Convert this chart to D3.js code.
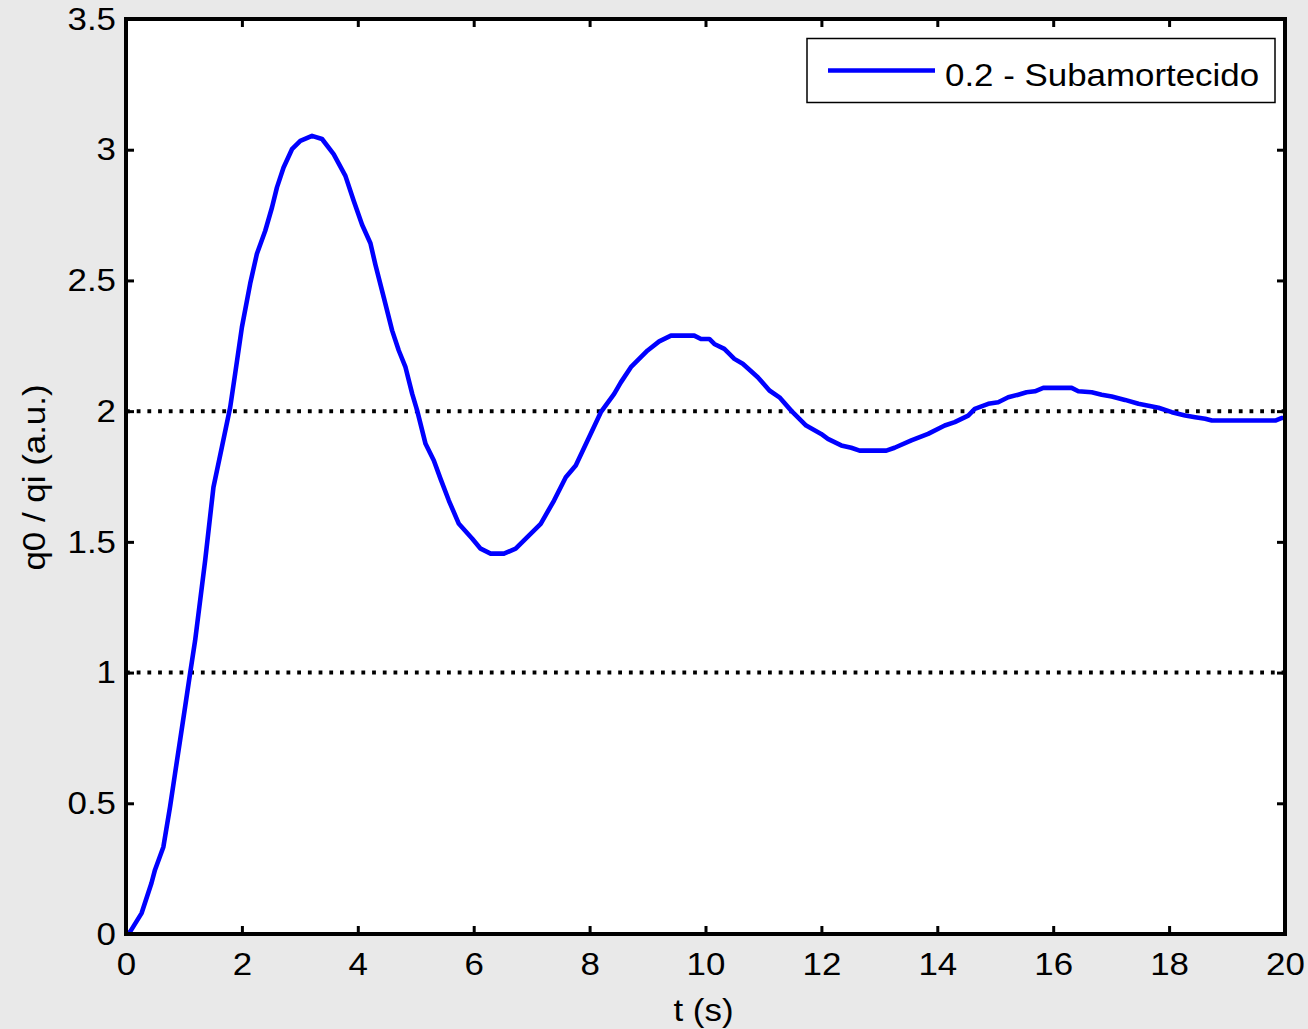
<!DOCTYPE html>
<html><head><meta charset="utf-8">
<script src="https://cdn.jsdelivr.net/npm/d3@7"></script>
<style>
html,body{margin:0;padding:0;background:#e9e9e9;}
svg{display:block;font-family:"Liberation Sans",Arial,sans-serif;}
</style></head>
<body>
<svg id="c" width="1308" height="1029"></svg>
<script>
const tValues = [0,0.07,0.27,0.44,0.5,0.645,0.76,0.847,0.933,1.02,1.106,1.193,1.366,1.509,1.654,1.798,1.884,2.0,2.143,2.259,2.403,2.519,2.605,2.719,2.864,3.008,3.21,3.383,3.583,3.786,3.929,4.074,4.218,4.304,4.448,4.593,4.707,4.823,4.939,5.025,5.169,5.312,5.428,5.571,5.744,5.976,6.119,6.292,6.522,6.724,6.868,7.156,7.386,7.589,7.761,7.991,8.194,8.424,8.539,8.712,9.001,9.201,9.404,9.806,9.922,10.066,10.152,10.325,10.498,10.643,10.902,11.103,11.276,11.478,11.737,11.996,12.112,12.342,12.515,12.659,13.12,13.263,13.552,13.841,14.128,14.301,14.533,14.647,14.879,15.051,15.224,15.397,15.54,15.684,15.829,16.318,16.434,16.664,16.837,17.01,17.239,17.471,17.644,17.817,18.047,18.277,18.45,18.623,18.738,19.833,19.948,20.0];
const qValues = [0,0.008,0.08,0.195,0.245,0.333,0.486,0.615,0.741,0.869,0.997,1.123,1.429,1.709,1.862,2.015,2.144,2.321,2.488,2.602,2.69,2.779,2.856,2.932,3.002,3.034,3.053,3.041,2.983,2.9,2.805,2.713,2.642,2.56,2.435,2.308,2.232,2.168,2.066,2.002,1.875,1.811,1.741,1.658,1.569,1.512,1.474,1.455,1.455,1.474,1.506,1.569,1.658,1.747,1.792,1.9,1.996,2.066,2.11,2.168,2.232,2.267,2.289,2.289,2.276,2.276,2.257,2.238,2.2,2.181,2.13,2.079,2.053,2.002,1.945,1.913,1.894,1.869,1.86,1.849,1.849,1.86,1.888,1.913,1.945,1.958,1.983,2.009,2.028,2.034,2.053,2.063,2.072,2.076,2.089,2.089,2.076,2.072,2.063,2.056,2.043,2.028,2.021,2.013,1.996,1.983,1.977,1.971,1.964,1.964,1.974,1.974];
const refLevels = [1, 2];
const xTicks = [0,2,4,6,8,10,12,14,16,18,20];
const yTicks = [0,0.5,1,1.5,2,2.5,3,3.5];
const seriesName = "0.2 - Subamortecido";
const xLabel = "t (s)";
const yLabel = "q0 / qi (a.u.)";

const L = 126, R = 1285, T = 19, B = 934;
const svg = d3.select("#c");
const x = d3.scaleLinear().domain([0,20]).range([L,R]);
const y = d3.scaleLinear().domain([0,3.5]).range([B,T]);
const fs = "32px";
const STRETCH = 1.09;
function stretch(sel){
  sel.each(function(){
    const len = this.getComputedTextLength();
    if (len > 0) d3.select(this).attr("textLength", len*STRETCH).attr("lengthAdjust","spacingAndGlyphs");
  });
}

svg.append("rect").attr("x",L).attr("y",T).attr("width",R-L).attr("height",B-T).attr("fill","#fff");
svg.append("clipPath").attr("id","clip").append("rect").attr("x",L).attr("y",T-2).attr("width",R-L).attr("height",B-T+4);

// reference dotted lines
svg.selectAll(".ref").data(refLevels).join("line")
  .attr("x1",x(0)).attr("x2",x(20)).attr("y1",d=>y(d)).attr("y2",d=>y(d))
  .attr("stroke","#000").attr("stroke-width",4).attr("stroke-dasharray","3.8 6.9");

// curve
const pts = tValues.map((t,i)=>[t,qValues[i]]);
svg.append("path").datum(pts).attr("clip-path","url(#clip)")
  .attr("d",d3.line().x(d=>x(d[0])).y(d=>y(d[1])))
  .attr("fill","none").attr("stroke","#0000ff").attr("stroke-width",4.6).attr("stroke-linejoin","round");

// axes
const gl = svg.append("g").attr("transform",`translate(${L},0)`)
  .call(d3.axisLeft(y).tickValues(yTicks).tickSize(-8).tickPadding(10).tickFormat(d3.format("")));
const gb = svg.append("g").attr("transform",`translate(0,${B})`)
  .call(d3.axisBottom(x).tickValues(xTicks).tickSize(-8).tickPadding(18).tickFormat(d3.format("")));
const gr = svg.append("g").attr("transform",`translate(${R},0)`)
  .call(d3.axisRight(y).tickValues(yTicks).tickSize(-8).tickFormat(""));
const gt = svg.append("g").attr("transform",`translate(0,${T})`)
  .call(d3.axisTop(x).tickValues(xTicks).tickSize(-8).tickFormat(""));
[gl,gb,gr,gt].forEach(g=>{
  g.select(".domain").remove();
  g.selectAll(".tick line").attr("stroke","#000").attr("stroke-width",3);
  g.selectAll("text").attr("font-size",fs).attr("fill","#000").attr("font-family","Liberation Sans, Arial, sans-serif");
});
stretch(gl.selectAll("text"));
stretch(gb.selectAll("text"));
svg.append("rect").attr("x",L).attr("y",T).attr("width",R-L).attr("height",B-T)
  .attr("fill","none").attr("stroke","#000").attr("stroke-width",4);

// axis labels
svg.append("text").attr("x",(L+R)/2 - 2).attr("y",1021).attr("text-anchor","middle")
  .attr("font-size",fs).text(xLabel).call(stretch);
svg.append("text").attr("transform",`translate(45,${(T+B)/2 + 1}) rotate(-90)`).attr("text-anchor","middle")
  .attr("font-size",fs).text(yLabel).call(stretch);

// legend
const lg = svg.append("g");
lg.append("rect").attr("x",807).attr("y",38.5).attr("width",468).attr("height",64)
  .attr("fill","#fff").attr("stroke","#000").attr("stroke-width",1.5);
lg.append("line").attr("x1",828).attr("x2",935).attr("y1",70.5).attr("y2",70.5)
  .attr("stroke","#0000ff").attr("stroke-width",4.6);
lg.append("text").attr("x",945).attr("y",86).attr("font-size",fs).text(seriesName).call(stretch);
</script>
</body></html>
